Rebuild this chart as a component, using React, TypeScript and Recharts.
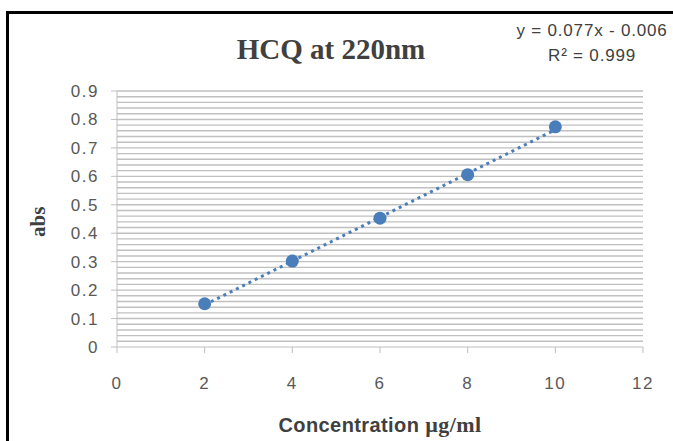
import { ReferenceLine, Scatter, ScatterChart, XAxis, YAxis } from 'recharts';

const concentrations = [2, 4, 6, 8, 10];
const absorbances = [0.152, 0.302, 0.453, 0.606, 0.774];

// dotted trendline end points
const trendX = [2, 10];
const trendY = [0.148, 0.764];

const xTicks = [0, 2, 4, 6, 8, 10, 12];
const yTicks = [0, 0.1, 0.2, 0.3, 0.4, 0.5, 0.6, 0.7, 0.8, 0.9];
const minorGrid = Array.from({ length: 45 }, (_, i) => Math.round((i + 1) * 2) / 100);

const points = concentrations.map((x, i) => ({ x, y: absorbances[i] }));
const trend = trendX.map((x, i) => ({ x, y: trendY[i] }));

const tickStyle = { fill: '#595959', fontSize: 17, fontFamily: 'Liberation Sans, Arial, sans-serif', letterSpacing: 1.5 };
const blue = '#4a7ebb';

export default function App() {
  return (
    <div style={{ position: 'absolute', left: 0, top: 0, width: 673, height: 441, background: '#fff', overflow: 'hidden' }}>
      <div
        style={{
          position: 'absolute',
          left: 6,
          top: 11,
          width: 700,
          height: 460,
          borderLeft: '3px solid #000',
          borderTop: '3px solid #000',
        }}
      />
      <div
        style={{
          position: 'absolute',
          left: 0,
          width: 662,
          top: 33,
          textAlign: 'center',
          fontFamily: 'Liberation Serif, serif',
          fontWeight: 'bold',
          fontSize: 29,
          color: '#404040',
        }}
      >
        HCQ at 220nm
      </div>
      <div
        style={{
          position: 'absolute',
          left: 505,
          width: 174,
          top: 18,
          textAlign: 'center',
          fontFamily: 'Liberation Sans, sans-serif',
          fontSize: 17,
          letterSpacing: 0.8,
          lineHeight: '25px',
          color: '#404040',
        }}
      >
        <div>y = 0.077x - 0.006</div>
        <div>R² = 0.999</div>
      </div>
      <div
        style={{
          position: 'absolute',
          left: 24,
          top: 209,
          width: 28,
          height: 28,
          transform: 'rotate(-90deg)',
          fontFamily: 'Liberation Serif, serif',
          fontWeight: 'bold',
          fontSize: 21,
          color: '#404040',
          lineHeight: '28px',
          textAlign: 'center',
        }}
      >
        abs
      </div>
      <div
        style={{
          position: 'absolute',
          left: 180,
          width: 400,
          top: 412,
          textAlign: 'center',
          fontWeight: 'bold',
          fontSize: 20,
          letterSpacing: 0.4,
          color: '#404040',
        }}
      >
        <span style={{ fontFamily: 'Liberation Sans, sans-serif' }}>Concentration </span>
        <span style={{ fontFamily: 'Liberation Serif, serif', fontSize: 22 }}>µg/ml</span>
      </div>
      <ScatterChart width={673} height={441} margin={{ top: 91, right: 30, bottom: 64, left: 0 }} style={{ position: 'absolute', left: 0, top: 0 }}>
        {minorGrid.map((v) => (
          <ReferenceLine key={v} y={v} stroke="#c0c0c0" strokeWidth={1.4} />
        ))}
        <XAxis
          dataKey="x"
          type="number"
          domain={[0, 12]}
          ticks={xTicks}
          interval={0}
          stroke="#bfbfbf"
          tickSize={6}
          tickMargin={24}
          tick={tickStyle}
          tickLine={{ stroke: '#bfbfbf' }}
        />
        <YAxis
          dataKey="y"
          type="number"
          width={117}
          domain={[0, 0.9]}
          ticks={yTicks}
          interval={0}
          stroke="#bfbfbf"
          tickSize={6}
          tickMargin={12}
          tick={tickStyle}
          tickLine={{ stroke: '#bfbfbf' }}
        />
        <Scatter
          data={trend}
          line={{ stroke: blue, strokeWidth: 3, strokeDasharray: '3 4' }}
          shape={() => <g />}
          isAnimationActive={false}
        />
        <Scatter
          data={points}
          shape={(p: any) => <circle cx={p.cx} cy={p.cy} r={6.5} fill={blue} />}
          isAnimationActive={false}
        />
      </ScatterChart>
    </div>
  );
}
